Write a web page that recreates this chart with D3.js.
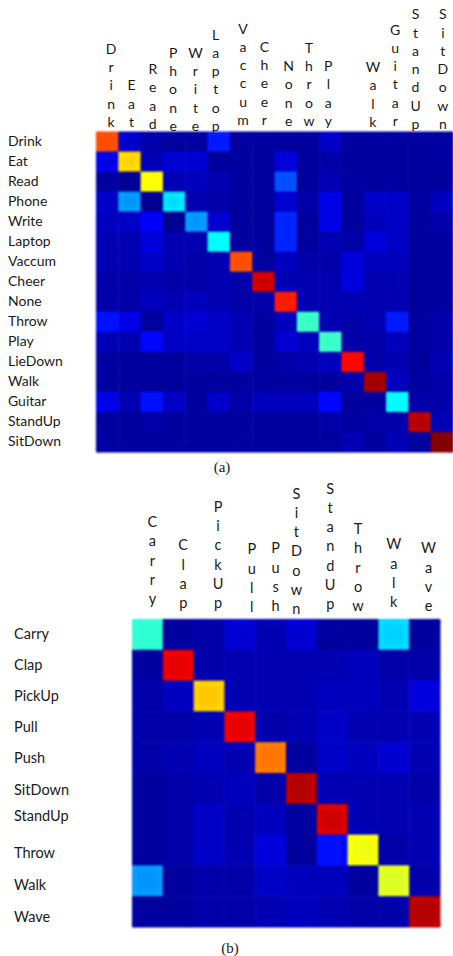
<!DOCTYPE html>
<html>
<head>
<meta charset="utf-8">
<script src="https://cdn.jsdelivr.net/npm/d3@7"></script>
<style>
    html, body { margin: 0; padding: 0; background: #fff; }
    text { font-family: Lato, sans-serif; fill: #1a1a1a; }
    .caption { font-family: "Liberation Serif", serif; font-size: 15px; }
</style>
</head>
<body>
<div id="chart"></div>
<script>
// Labels
const classesA = ["Drink", "Eat", "Read", "Phone", "Write", "Laptop", "Vaccum", "Cheer", "None", "Throw", "Play", "LieDown", "Walk", "Guitar", "StandUp", "SitDown"];
const columnsA = ["Drink", "Eat", "Read", "Phone", "Write", "Laptop", "Vaccum", "Cheer", "None", "Throw", "Play", "Walk", "Guitar", "StandUp", "SitDown"];
const classesB = ["Carry", "Clap", "PickUp", "Pull", "Push", "SitDown", "StandUp", "Throw", "Walk", "Wave"];

// Confusion matrices (0..1 on the jet colour range)
const matrixA = [
    [.80, .07, .04, .03, .03, .15, .03, .03, .03, .03, .07, .03, .03, .03, .03, .03],
    [.10, .67, .05, .08, .08, .03, .03, .03, .09, .03, .04, .03, .03, .03, .03, .03],
    [.03, .02, .62, .05, .06, .05, .03, .03, .20, .03, .05, .03, .03, .03, .03, .03],
    [.07, .27, .02, .34, .05, .04, .03, .03, .08, .04, .10, .03, .07, .07, .03, .06],
    [.06, .07, .12, .02, .27, .08, .03, .03, .16, .03, .10, .03, .06, .07, .03, .04],
    [.05, .05, .09, .05, .05, .37, .03, .03, .16, .03, .05, .04, .09, .07, .03, .03],
    [.05, .05, .07, .05, .04, .05, .80, .03, .06, .04, .04, .09, .06, .06, .03, .03],
    [.04, .04, .05, .04, .04, .05, .04, .93, .05, .05, .05, .09, .05, .05, .03, .03],
    [.04, .04, .06, .05, .06, .05, .04, .04, .85, .05, .05, .05, .05, .05, .03, .03],
    [.14, .10, .03, .07, .08, .07, .05, .03, .06, .43, .05, .04, .05, .15, .03, .04],
    [.05, .05, .13, .07, .07, .07, .05, .03, .08, .06, .43, .04, .04, .06, .03, .04],
    [.03, .03, .03, .03, .04, .04, .07, .03, .04, .05, .06, .87, .04, .05, .03, .05],
    [.03, .03, .03, .03, .03, .03, .03, .03, .03, .03, .03, .04, .97, .06, .03, .04],
    [.10, .05, .14, .07, .03, .07, .04, .06, .06, .06, .13, .03, .03, .37, .04, .04],
    [.03, .03, .04, .03, .03, .03, .03, .03, .03, .03, .04, .03, .04, .04, .95, .05],
    [.03, .03, .03, .03, .03, .03, .03, .03, .03, .03, .03, .05, .03, .05, .03, 1]
];
const matrixB = [
    [.42, .03, .04, .08, .05, .08, .03, .03, .33, .03],
    [.03, .90, .04, .05, .05, .05, .05, .06, .04, .04],
    [.04, .06, .68, .05, .05, .05, .06, .06, .05, .09],
    [.04, .04, .05, .90, .04, .05, .07, .05, .05, .05],
    [.04, .05, .06, .05, .76, .03, .07, .06, .08, .05],
    [.03, .04, .05, .06, .04, .95, .05, .05, .05, .04],
    [.03, .04, .07, .05, .06, .03, .92, .05, .05, .05],
    [.03, .04, .07, .05, .09, .03, .14, .61, .04, .05],
    [.27, .03, .04, .04, .07, .06, .06, .03, .59, .04],
    [.03, .03, .04, .04, .05, .06, .05, .04, .04, .95]
];

// Hand nudges for the pasted-in labels, they don't sit on the cell centres
const colNudgeA = [4, 2, 1, -1, -1, -3, 2, 1, 3, 1, -2, -2, -2, -4, 1];
const colBaseA = [127, 127, 129, 131, 131, 131, 125, 125, 126, 126, 126, 127, 126, 129, 129];
const colNudgeB = [5, 5, 9, 12, 5, -5, -2, -5, 0, 4];
const colBaseB = [604, 608, 608, 612, 611, 614, 609, 611, 607, 611];
const rowNudgeB = [0, 0, 0, 1, 1, 2, -3, 3, 5, 6];

const width = 453;
const height = 956;

// Jet colormap, same stops as matlab
const jet = d3.scaleLinear()
    .domain([0, .125, .375, .625, .875, 1])
    .range(["#000080", "#0000ff", "#00ffff", "#ffff00", "#ff0000", "#800000"])
    .clamp(true);

const svg = d3.select('#chart')
    .append('svg')
    .attr('width', width)
    .attr('height', height)
    .style('display', 'block');

// Soft, over-sharpened look of the scanned figure
const filter = svg.append('defs').append('filter')
    .attr('id', 'scan')
    .attr('filterUnits', 'userSpaceOnUse')
    .attr('x', 0).attr('y', 0)
    .attr('width', width).attr('height', height)
    .attr('color-interpolation-filters', 'sRGB');
filter.append('feGaussianBlur').attr('in', 'SourceGraphic').attr('stdDeviation', 1.4).attr('result', 'soft');
filter.append('feGaussianBlur').attr('in', 'SourceGraphic').attr('stdDeviation', 3.5).attr('result', 'wide');
filter.append('feComposite')
    .attr('in', 'soft').attr('in2', 'wide')
    .attr('operator', 'arithmetic')
    .attr('k1', 0).attr('k2', 1.45).attr('k3', -.45).attr('k4', 0);

function drawMatrix(cfg) {
    const xScale = d3.scaleBand().domain(cfg.rows).range(cfg.xRange);
    const yScale = d3.scaleBand().domain(cfg.rows).range(cfg.yRange);

    // Column labels first, the matrix covers their last letters
    const columns = svg.append('g').attr('font-size', cfg.fontSize);
    cfg.columns.forEach((name, i) => {
        const x = xScale(name) + xScale.bandwidth() / 2 + cfg.colNudge[i];
        columns.selectAll(null)
            .data(name.split(''))
            .join('text')
            .attr('x', x)
            .attr('y', (d, j) => cfg.colBase[i] - (name.length - 1 - j) * cfg.letterStep)
            .attr('text-anchor', 'middle')
            .text(d => d);
    });

    const cells = cfg.matrix.flatMap((row, r) => row.map((value, c) => ({ r, c, value })));
    svg.append('g')
        .attr('filter', 'url(#scan)')
        .selectAll('rect')
        .data(cells)
        .join('rect')
        .attr('x', d => xScale(cfg.rows[d.c]))
        .attr('y', d => yScale(cfg.rows[d.r]))
        .attr('width', xScale.bandwidth() + .5)
        .attr('height', yScale.bandwidth() + .5)
        .attr('fill', d => jet(d.value));

    // Row labels, left aligned
    const yAxis = d3.axisLeft(yScale).tickSize(0);
    const yAxisGroup = svg.append('g')
        .attr('transform', `translate(${cfg.labelX}, 0)`)
        .call(yAxis);
    yAxisGroup.select('.domain').remove();
    yAxisGroup.selectAll('text')
        .attr('x', 0)
        .attr('dy', (d, i) => `${cfg.rowNudge[i] + 4.5}px`)
        .attr('text-anchor', 'start')
        .style('font-family', 'Lato, sans-serif')
        .style('font-size', cfg.fontSize + 'px')
        .style('fill', '#1a1a1a');
}

drawMatrix({
    rows: classesA,
    columns: columnsA,
    matrix: matrixA,
    xRange: [96, 453],
    yRange: [131.5, 452],
    labelX: 8,
    fontSize: 14,
    letterStep: 18.3,
    colNudge: colNudgeA,
    colBase: colBaseA,
    rowNudge: classesA.map(() => 0)
});

drawMatrix({
    rows: classesB,
    columns: classesB,
    matrix: matrixB,
    xRange: [132, 440],
    yRange: [619, 927],
    labelX: 14,
    fontSize: 14.5,
    letterStep: 19.2,
    colNudge: colNudgeB,
    colBase: colBaseB,
    rowNudge: rowNudgeB
});

svg.append('text').attr('class', 'caption').attr('x', 222).attr('y', 472).attr('text-anchor', 'middle').text('(a)');
svg.append('text').attr('class', 'caption').attr('x', 230).attr('y', 953).attr('text-anchor', 'middle').text('(b)');
</script>
</body>
</html>
